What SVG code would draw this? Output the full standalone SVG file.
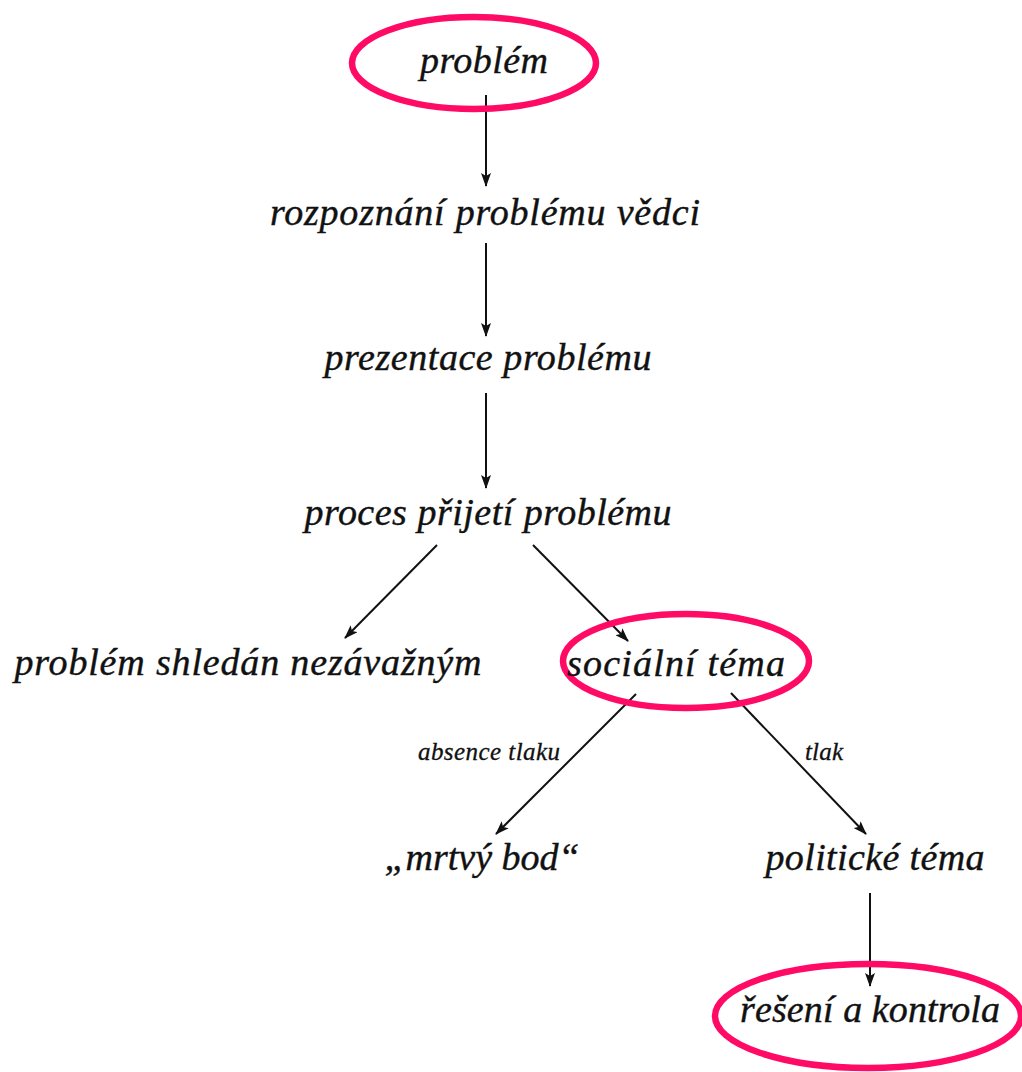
<svg xmlns="http://www.w3.org/2000/svg" width="1022" height="1072" viewBox="0 0 1022 1072">
<style>
.t{font-family:"Liberation Serif","Times New Roman",serif;font-style:italic;font-size:38px;fill:#111;stroke:#111;stroke-width:0.4;text-anchor:middle}
.s{font-family:"Liberation Serif","Times New Roman",serif;font-style:italic;font-size:25px;fill:#111;stroke:#111;stroke-width:0.3;text-anchor:middle}
.e{fill:none;stroke:#ff0a64;stroke-width:6.5}
.c{stroke:#111;stroke-width:2;fill:none;marker-end:url(#ah)}
</style>
<defs>
<marker id="ah" markerUnits="userSpaceOnUse" markerWidth="14" markerHeight="10" refX="13" refY="5" orient="auto">
<path d="M0,0 L14,5 L0,10 L3,5 z" fill="#111"/>
</marker>
</defs>
<rect width="1022" height="1072" fill="#fff"/>
<g id="connectors">
<line class="c" x1="486" y1="95" x2="486" y2="186"/>
<line class="c" x1="486" y1="243" x2="486" y2="336"/>
<line class="c" x1="486" y1="393" x2="486" y2="488"/>
<line class="c" x1="437" y1="545" x2="345" y2="638"/>
<line class="c" x1="533" y1="545" x2="628" y2="641"/>
<line class="c" x1="636" y1="694" x2="496" y2="834"/>
<line class="c" x1="731" y1="693" x2="866" y2="834"/>
<line class="c" x1="870" y1="893" x2="870" y2="986"/>
</g>
<g id="n1"><ellipse class="e" cx="474" cy="63" rx="122" ry="46"/><text class="t" x="484" y="73" textLength="128">problém</text></g>
<g id="n2"><text class="t" x="485" y="225" textLength="430">rozpoznání problému vědci</text></g>
<g id="n3"><text class="t" x="488" y="370" textLength="327">prezentace problému</text></g>
<g id="n4"><text class="t" x="488" y="525" textLength="367">proces přijetí problému</text></g>
<g id="n5"><text class="t" x="248" y="675" textLength="467">problém shledán nezávažným</text></g>
<g id="n6"><ellipse class="e" cx="686" cy="661" rx="123" ry="47"/><text class="t" x="676" y="676" textLength="218">sociální téma</text></g>
<g id="l1"><text class="s" x="489" y="760" textLength="142">absence tlaku</text></g>
<g id="l2"><text class="s" x="824" y="760" textLength="38">tlak</text></g>
<g id="n7"><text class="t" x="482" y="870" textLength="195">„mrtvý bod“</text></g>
<g id="n8"><text class="t" x="875" y="870" textLength="219">politické téma</text></g>
<g id="n9"><ellipse class="e" cx="868" cy="1016" rx="153" ry="52"/><text class="t" x="870" y="1022" textLength="260">řešení a kontrola</text></g>
</svg>
